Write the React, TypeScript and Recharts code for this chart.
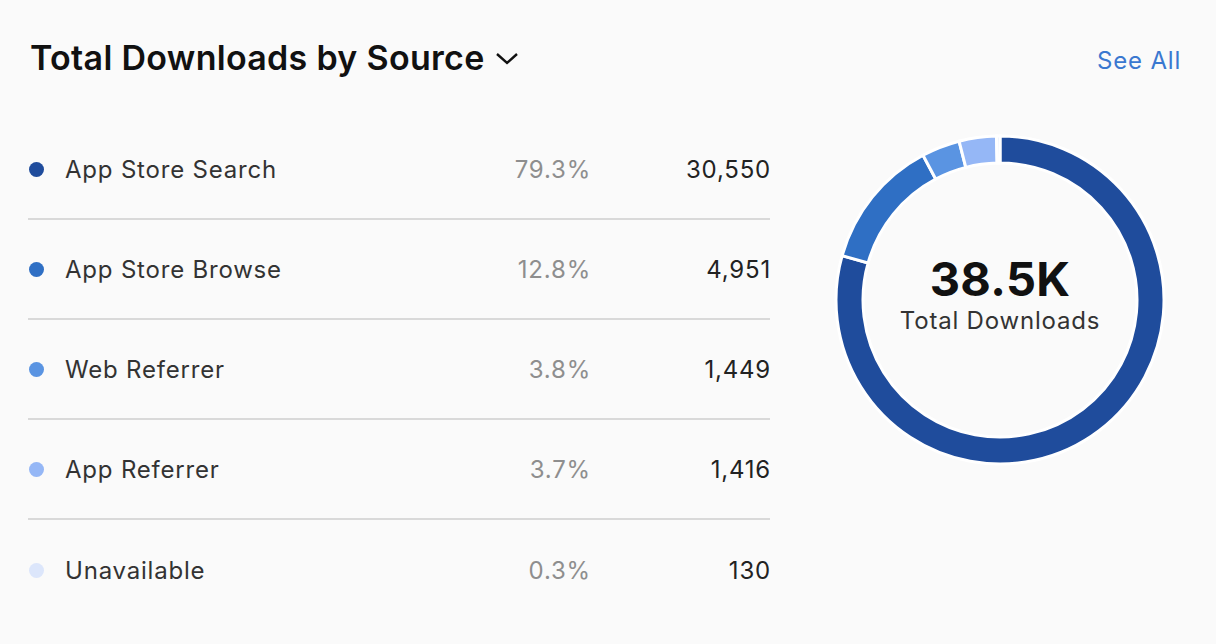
import { PieChart, Pie, Cell } from 'recharts';

const sources = ['App Store Search', 'App Store Browse', 'Web Referrer', 'App Referrer', 'Unavailable'];
const downloads = [30550, 4951, 1449, 1416, 130];
const shares = ['79.3%', '12.8%', '3.8%', '3.7%', '0.3%'];
const colors = ['#1f4c9c', '#2f6fc4', '#5a94e2', '#95b7f6', '#dce6fb'];
const totalLabel = '38.5K';

const data = sources.map((name, i) => ({ name, value: downloads[i] }));

const font = 'Inter, "Noto Sans", sans-serif';

const App = () => {
    return (
        <div style={{ position: 'fixed', inset: 0, background: '#fafafa', fontFamily: font }}>
            <div style={{ position: 'absolute', left: 30, top: 37, fontSize: 34, fontWeight: 600, color: '#111', letterSpacing: 0.3, display: 'flex', alignItems: 'center' }}>
                Total Downloads by Source
                <svg width="24" height="16" viewBox="0 0 24 16" style={{ marginLeft: 10 }}>
                    <polyline points="2,4 12,13 22,4" fill="none" stroke="#111" strokeWidth="2.4" />
                </svg>
            </div>
            <div style={{ position: 'absolute', right: 35, top: 46, fontSize: 24, color: '#3a78d0', letterSpacing: 0.8 }}>See All</div>

            <div style={{ position: 'absolute', left: 28, top: 120, width: 742 }}>
                {sources.map((name, i) => (
                    <div
                        key={name}
                        style={{
                            height: 100,
                            boxSizing: 'border-box',
                            borderBottom: i < sources.length - 1 ? '2px solid #d9d9d9' : 'none',
                            display: 'flex',
                            alignItems: 'center',
                            fontSize: 24,
                            letterSpacing: 0.8,
                            position: 'relative',
                        }}
                    >
                        <span style={{ width: 15, height: 15, borderRadius: '50%', background: colors[i], marginLeft: 1 }} />
                        <span style={{ position: 'absolute', left: 37, color: '#333' }}>{name}</span>
                        <span style={{ position: 'absolute', right: 179, color: '#8e8e8e' }}>{shares[i]}</span>
                        <span style={{ position: 'absolute', right: -1, color: '#222' }}>{downloads[i].toLocaleString('en-US')}</span>
                    </div>
                ))}
            </div>

            <div style={{ position: 'absolute', left: 820, top: 120, width: 360, height: 360 }}>
                <PieChart width={360} height={360} margin={{ top: 0, right: 0, bottom: 0, left: 0 }}>
                    <Pie
                        data={data}
                        dataKey="value"
                        cx={180}
                        cy={180}
                        innerRadius={137}
                        outerRadius={164}
                        startAngle={90}
                        endAngle={-270}
                        stroke="#ffffff"
                        strokeWidth={3}
                        isAnimationActive={false}
                    >
                        {data.map((entry, index) => (
                            <Cell key={`cell-${index}`} fill={colors[index]} />
                        ))}
                    </Pie>
                </PieChart>
                <div style={{ position: 'absolute', left: 0, top: 131, width: 360, textAlign: 'center', fontSize: 47, fontWeight: 700, color: '#111', lineHeight: '56px', letterSpacing: 0.3 }}>{totalLabel}</div>
                <div style={{ position: 'absolute', left: 0, top: 186, width: 360, textAlign: 'center', fontSize: 24, color: '#333', letterSpacing: 0.8 }}>Total Downloads</div>
            </div>
        </div>
    );
};

export default App;
